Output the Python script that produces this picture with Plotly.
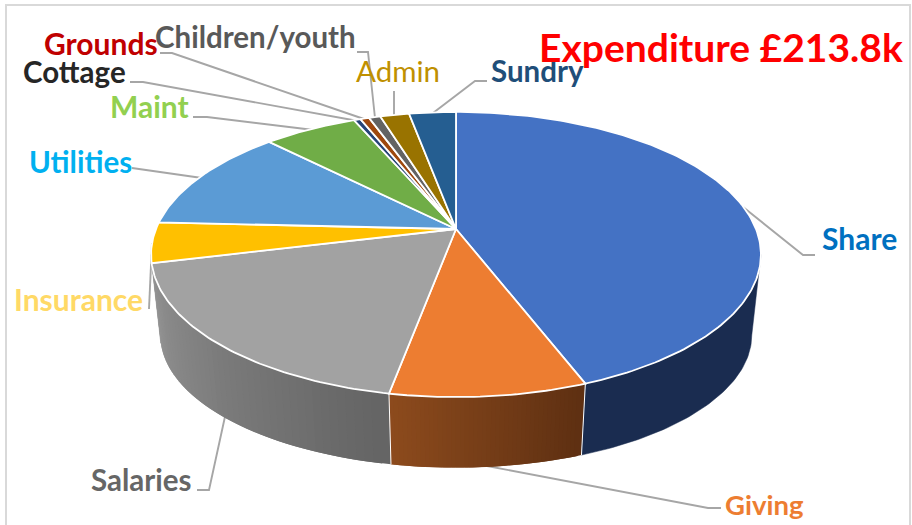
import math
import plotly.graph_objects as go

# ---- data (GBP thousand), clockwise from 12 o'clock
categories = ["Share", "Giving", "Salaries", "Insurance", "Utilities", "Maint",
              "Cottage", "Grounds", "Children/youth", "Admin", "Sundry"]
values = [94.4, 18.8, 39.0, 9.8, 25.3, 12.65, 0.9, 1.2, 1.55, 3.9, 6.3]
title_text = "Expenditure £213.8k"

# ---- styles
face_colors = ["#4472c4", "#ed7d31", "#a2a2a2", "#ffc000", "#5b9bd5", "#70ad47",
               "#264478", "#9e480e", "#636363", "#997300", "#255e91"]
label_colors = ["#0070c0", "#ed7d31", "#666666", "#ffd966", "#00b0f0", "#92d050",
                "#262626", "#c00000", "#595959", "#bf9000", "#1f4e79"]
label_bold = [True, True, True, True, True, True, True, True, True, False, True]
label_x = [819.5, 722.5, 88.5, 11.5, 26.5, 107.5, 20.5, 41.5, 153, 354, 489]
label_y = [237.5, 504.5, 479.5, 298.5, 161.5, 105.5, 71.5, 42.5, 36.5, 70.5, 70.5]
label_size = [30, 27.5, 29.5, 30, 29.5, 30, 29.5, 30, 29.5, 29.5, 29.5]
leaders = [
    [(738, 203), (803, 255), (815, 255)],
    [(487, 466), (708, 508), (721, 508)],
    [(226, 412), (209, 490), (197, 490)],
    [(152, 243), (149, 309)],
    [(132, 168), (202, 178)],
    [(193, 117), (207, 117), (322, 131)],
    [(130, 82), (143, 82), (358, 121)],
    [(160, 53), (172, 53), (364, 119)],
    [(357, 52), (368, 52), (375, 118)],
    [(394, 91), (394, 116)],
    [(433, 113), (475, 81), (487, 81)],
]
wall_grad = {0: ("#1a2c50", "#1a2c50"), 1: ("#5f3012", "#8d4b1d"), 2: ("#656565", "#949494")}

# ---- projection of the tilted disc
CX, CY, A, B, K = 456, 229, 300, 138, 0.179
LOW_SX, LOW_SY, LOW_CY, TOP_CY = 0.97, 0.93, 335, 254.5
SILHOUETTE = math.pi / 2 + math.asin(K)


def top_pt(t):
    u, v = math.sin(t), math.cos(t)
    w = 1 / (1 + K * v)
    return CX + A * u * w, CY - B * v * w


def low_pt(t):
    x, y = top_pt(t)
    return CX + (x - CX) * LOW_SX, LOW_CY + (y - TOP_CY) * LOW_SY


def lerp_color(c1, c2, f):
    a = [int(c1[i:i + 2], 16) for i in (1, 3, 5)]
    b = [int(c2[i:i + 2], 16) for i in (1, 3, 5)]
    return "#%02x%02x%02x" % tuple(round(p + (q - p) * f) for p, q in zip(a, b))


def arc(t0, t1, n):
    return [t0 + (t1 - t0) * i / n for i in range(n + 1)]


total = sum(values)
bounds = [0.0]
for val in values:
    bounds.append(bounds[-1] + val / total * 2 * math.pi)

fig = go.Figure()


def poly(pts, fill, line_color=None, width=0.0):
    fig.add_trace(go.Scatter(
        x=[p[0] for p in pts] + [pts[0][0]], y=[p[1] for p in pts] + [pts[0][1]],
        mode="lines", fill="toself", fillcolor=fill,
        line=dict(color=line_color or fill, width=width),
        hoverinfo="skip", showlegend=False))


def path(pts, color, width):
    fig.add_trace(go.Scatter(
        x=[p[0] for p in pts], y=[p[1] for p in pts], mode="lines",
        line=dict(color=color, width=width), hoverinfo="skip", showlegend=False))


# frame
path([(6, 525), (6, 5), (910, 5), (910, 525)], "#d9d9d9", 2)

# leader lines
for pts in leaders:
    path(pts, "#a6a6a6", 1.9)

# left end of the wall past the salaries slice
ts = arc(bounds[3], 2 * math.pi - SILHOUETTE, 10)
poly([top_pt(t) for t in ts] + [low_pt(t) for t in reversed(ts)], "#949494", "#949494", 0.5)

# side walls, banded to give the shading; each band runs under the next one
for i in (2, 1, 0):
    t0, t1 = bounds[i], bounds[i + 1]
    if i == 0:
        t0 = SILHOUETTE
    c0, c1 = wall_grad[i]
    if c0 == c1:
        ts = arc(t0, t1, 60)
        poly([top_pt(t) for t in ts] + [low_pt(t) for t in reversed(ts)], c0, c0, 0.5)
    else:
        n = 45
        for j in range(n - 1, -1, -1):
            ts = arc(t0 + (t1 - t0) * j / n, t0 + (t1 - t0) * min(j + 2, n) / n, 4)
            col = lerp_color(c0, c1, j / (n - 1))
            poly([top_pt(t) for t in ts] + [low_pt(t) for t in reversed(ts)], col, col, 0)

# wall separators
for i in (1, 2):
    path([top_pt(bounds[i]), low_pt(bounds[i])], "#ffffff", 1)

# top faces
for i in range(len(values)):
    t0, t1 = bounds[i], bounds[i + 1]
    n = max(3, int((t1 - t0) * 60))
    pts = [(CX, CY)] + [top_pt(t) for t in arc(t0, t1, n)]
    poly(pts, face_colors[i], "#ffffff", 1.8)

annotations = []
for name, x, y, col, bold, size in zip(categories, label_x, label_y, label_colors, label_bold, label_size):
    annotations.append(dict(
        x=x, y=y, xref="x", yref="y", xanchor="left", yanchor="middle", showarrow=False,
        text=f"<b>{name}</b>" if bold else name,
        font=dict(family="Lato", size=size, color=col)))
annotations.append(dict(
    x=536.5, y=46.5, xref="x", yref="y", xanchor="left", yanchor="middle", showarrow=False,
    text=f"<b>{title_text}</b>", font=dict(family="Lato", size=39, color="#ff0000")))

fig.update_layout(
    width=912, height=525, margin=dict(l=0, r=0, t=0, b=0),
    paper_bgcolor="#ffffff", plot_bgcolor="#ffffff", showlegend=False,
    xaxis=dict(range=[0, 912], visible=False, fixedrange=True),
    yaxis=dict(range=[525, 0], visible=False, fixedrange=True),
    annotations=annotations)
fig.write_html("out.html", config={"displayModeBar": False},
               post_script="document.body.style.margin='0';")
